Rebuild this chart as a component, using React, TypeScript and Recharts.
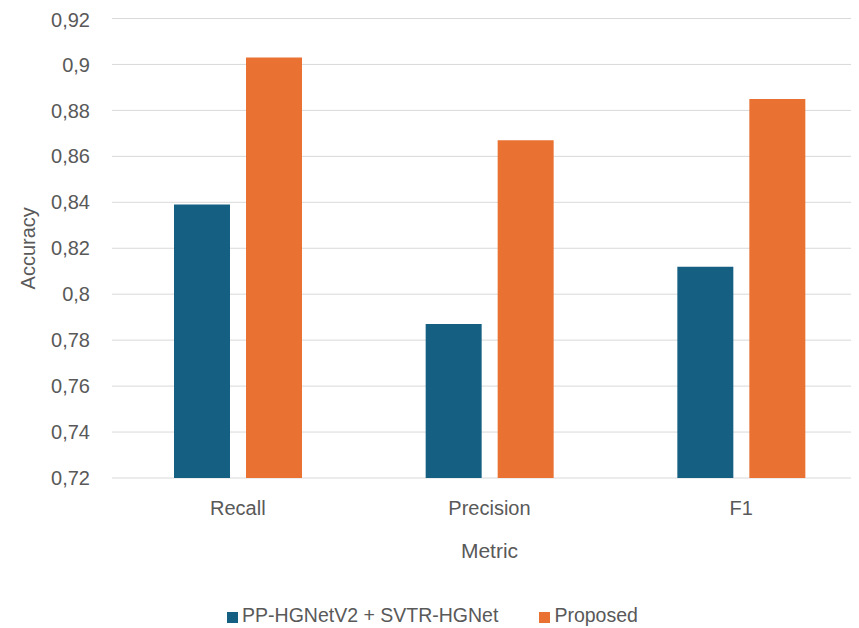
import React from 'react';
import {
  BarChart,
  Bar,
  XAxis,
  YAxis,
  CartesianGrid,
  Legend
} from 'recharts';

const metrics = ['Recall', 'Precision', 'F1'];
const baselineScores = [0.839, 0.787, 0.812];
const proposedScores = [0.903, 0.867, 0.885];
const yTicks = [0.72, 0.74, 0.76, 0.78, 0.8, 0.82, 0.84, 0.86, 0.88, 0.9, 0.92];

const BASELINE_NAME = 'PP-HGNetV2 + SVTR-HGNet';
const PROPOSED_NAME = 'Proposed';

const TEXT = '#595959';
const FONT = '"Liberation Sans", Arial, sans-serif';

const App: React.FC = () => {
  const data = metrics.map((m, i) => ({
    metric: m,
    baseline: baselineScores[i],
    proposed: proposedScores[i]
  }));

  // excel style decimal comma, no trailing zeros
  const fmt = (v: number) => String(Math.round(v * 100) / 100).replace('.', ',');

  return (
    <div style={{ width: 851, height: 620, overflow: 'hidden', fontFamily: FONT }}>
      <BarChart
        width={870}
        height={620}
        data={data}
        margin={{ top: 10.5, right: 11, left: 0, bottom: 0 }}
        barSize={56}
        barGap={16}
      >
        <CartesianGrid stroke="#D9D9D9" vertical={false} />
        <XAxis
          dataKey="metric"
          height={110}
          axisLine={false}
          tickLine={false}
          tickSize={0}
          tickMargin={23}
          tick={{ fill: TEXT, fontSize: 20, fontFamily: FONT }}
          label={{ value: 'Metric', position: 'insideBottom', offset: 30, fill: TEXT, fontSize: 21, fontFamily: FONT }}
        />
        <YAxis
          width={104}
          domain={[0.72, 0.92]}
          ticks={yTicks}
          allowDataOverflow
          axisLine={false}
          tickLine={false}
          tickSize={0}
          tickMargin={22}
          tickFormatter={fmt}
          tick={{ fill: TEXT, fontSize: 20, fontFamily: FONT }}
          label={{
            value: 'Accuracy',
            angle: -90,
            position: 'insideLeft',
            offset: 20,
            fill: TEXT,
            fontSize: 20,
            fontFamily: FONT,
            style: { textAnchor: 'middle' }
          }}
        />
        <Legend
          verticalAlign="bottom"
          height={40}
          iconType="square"
          iconSize={11}
          wrapperStyle={{ bottom: -16 }}
          formatter={(value: string) => (
            <span
              style={{
                color: TEXT,
                fontSize: 19.5,
                fontFamily: FONT,
                marginRight: value === BASELINE_NAME ? 31 : 0
              }}
            >
              {value}
            </span>
          )}
        />
        <Bar dataKey="baseline" name={BASELINE_NAME} fill="#156082" isAnimationActive={false} />
        <Bar dataKey="proposed" name={PROPOSED_NAME} fill="#E97132" isAnimationActive={false} />
      </BarChart>
    </div>
  );
};

export default App;
